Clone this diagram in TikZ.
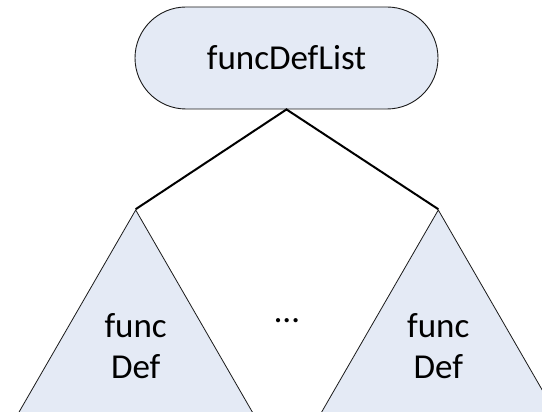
\documentclass[tikz,border=0pt]{standalone}
\usepackage{fontspec}
\setmainfont{Carlito}
\usetikzlibrary{shapes.misc,shapes.geometric}
\definecolor{Pale}{HTML}{E4EAF5}
\definecolor{Ink}{HTML}{1A1A1A}

\begin{document}
\begin{tikzpicture}[x=1pt,y=1pt,
    listnode/.style={rounded rectangle,draw=Ink,fill=Pale,line width=0.9pt,
      minimum width=303pt,minimum height=102pt,inner sep=0pt,
      font=\fontsize{35}{41}\selectfont},
    subtree/.style={regular polygon,regular polygon sides=3,draw=Ink,fill=Pale,
      line width=0.8pt,minimum size=272pt,inner sep=0pt,align=center,
      font=\fontsize{35}{41}\selectfont},
    branch/.style={line width=2pt,line join=miter}]
  \useasboundingbox (0,0) rectangle (542,412);
  \clip (0,0) rectangle (542,412);
  % root list and its two sub-trees
  \node[listnode] (list) at (286.5,354) {funcDefList};
  \node[subtree] (defL) at (135.7,66) {func\\Def};
  \node[subtree] (defR) at (438.3,66) {func\\Def};
  \node[anchor=base,inner sep=0pt,font=\fontsize{35}{41}\selectfont] (more) at (287,89) {…};
  \draw[branch] (defL.corner 1) -- (list.south) -- (defR.corner 1);
\end{tikzpicture}
\end{document}
